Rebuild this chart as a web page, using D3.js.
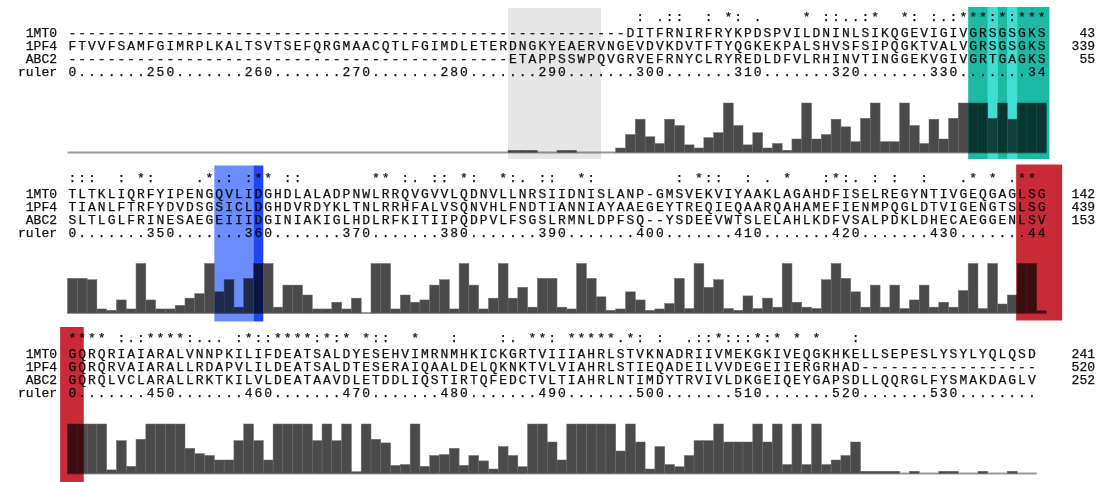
<!DOCTYPE html>
<html>
<head>
<meta charset="utf-8">
<script src="https://cdn.jsdelivr.net/npm/d3@7/dist/d3.min.js"></script>
<style>
body { margin: 0; background: #fff; }
svg text { font-family: "Liberation Mono", "DejaVu Sans Mono", monospace; font-size: 13px; fill: #111; stroke: #111; stroke-width: 0.25px; }
.hl { mix-blend-mode: multiply; }
</style>
</head>
<body>
<svg id="chart" width="1113" height="482"></svg>
<script>
// sequence names
var names = ["1MT0", "1PF4", "ABC2"];

// aligned residues, one string per block and sequence
var seqBlock1 = [
  "---------------------------------------------------------DITFRNIRFRYKPDSPVILDNINLSIKQGEVIGIVGRSGSGKS",
  "FTVVFSAMFGIMRPLKALTSVTSEFQRGMAACQTLFGIMDLETERDNGKYEAERVNGEVDVKDVTFTYQGKEKPALSHVSFSIPQGKTVALVGRSGSGKS",
  "---------------------------------------------ETAPPSSWPQVGRVEFRNYCLRYREDLDFVLRHINVTINGGEKVGIVGRTGAGKS"
];
var seqBlock2 = [
  "TLTKLIQRFYIPENGQVLIDGHDLALADPNWLRRQVGVVLQDNVLLNRSIIDNISLANP-GMSVEKVIYAAKLAGAHDFISELREGYNTIVGEQGAGLSG",
  "TIANLFTRFYDVDSGSICLDGHDVRDYKLTNLRRHFALVSQNVHLFNDTIANNIAYAAEGEYTREQIEQAARQAHAMEFIENMPQGLDTVIGENGTSLSG",
  "SLTLGLFRINESAEGEIIIDGINIAKIGLHDLRFKITIIPQDPVLFSGSLRMNLDPFSQ--YSDEEVWTSLELAHLKDFVSALPDKLDHECAEGGENLSV"
];
var seqBlock3 = [
  "GQRQRIAIARALVNNPKILIFDEATSALDYESEHVIMRNMHKICKGRTVIIIAHRLSTVKNADRIIVMEKGKIVEQGKHKELLSEPESLYSYLYQLQSD",
  "GQRQRVAIARALLRDAPVLILDEATSALDTESERAIQAALDELQKNKTVLVIAHRLSTIEQADEILVVDEGEIIERGRHAD------------------",
  "GQRQLVCLARALLRKTKILVLDEATAAVDLETDDLIQSTIRTQFEDCTVLTIAHRLNTIMDYTRVIVLDKGEIQEYGAPSDLLQQRGLFYSMAKDAGLV"
];

// residue numbers at the end of each row
var endBlock1 = [43, 339, 55];
var endBlock2 = [142, 439, 153];
var endBlock3 = [241, 520, 252];

// clustal conservation symbols
var consBlock1 = " ".repeat(57) + " : .::  : *: .    * ::..:*  *: :.:***:*:***";
var consBlock2 = ":::  : *:    .*.: :** ::       ** :. :: *:  *:. ::  *:        : *::  : . *   :*:. : :  :   .* * .** ";
var consBlock3 = "**** :.:****:... :*::****:*:* *::  *   :    :. **: *****.*: :  .::*:::*:* * *   :" + " ".repeat(18);

// ruler tick labels
var rulerBlock1 = "0.......250.......260.......270.......280.......290.......300.......310.......320.......330.......34";
var rulerBlock2 = "0.......350.......360.......370.......380.......390.......400.......410.......420.......430.......44";
var rulerBlock3 = "0.......450.......460.......470.......480.......490.......500.......510.......520.......530........";

// conservation histogram, one value per column (0..11)
var histBlock1 = [0,0,0,0,0,0,0,0,0,0, 0,0,0,0,0,0,0,0,0,0, 0,0,0,0,0,0,0,0,0,0, 0,0,0,0,0,0,0,0,0,0,
  0,0,0,0,0,0.5,0.5,0.5,0,0, 0.5,0.5,0,0,0,0,1,4,7.4,3.5, 2,7.4,6,1.7,1,3.3,4.4,11,6,1.7,
  4.4,1,2,0.5,3,11,3,4,7.4,5.7, 2.4,7.6,11,2.4,2.4,11,6,2,7.4,3, 7.6,11,11,11,7.6,11,7.4,11,11,11];
var histBlock2 = [7.7,7.7,7.4,0.9,0.6,2.9,0.9,11,2.9,0.9, 0.9,1.7,3.3,4.3,11,4.7,7.4,1.3,7.7,11,
  11,1.3,6.2,6.2,4,0.9,0.9,2.4,0.9,3.3, 0,11,11,0.9,4,2.4,2.9,6.2,7.4,0.9,
  11,6.2,0.9,3.3,11,3.3,5.7,1.3,7.7,7.7, 1.3,0.9,11,7.7,3.6,0.6,0.9,4.7,2.9,0.6,
  0.9,2.1,7.7,1,11,5.7,7.4,1,0.6,3.8, 1,3.3,1.3,11,2.4,1.3,1,7.4,11,7.7,
  4.7,1.3,6.2,1.3,6.2,1,2.9,6.2,1.3,2.4, 1.3,5,11,1,11,2,4,11,11,0.5];
var histBlock3 = [11,11,11,11,0.8,7.3,1.6,7.6,11,11, 11,11,5.6,4.4,4,3,3,7.3,11,7.3,
  3,11,11,11,11,7.3,11,7.3,11,0.4, 11,7.6,6.8,1.8,2,11,1.6,4,4.2,5.6,
  1.8,4,2.8,1,6,4,1.5,11,11,7, 3,11,11,11,11,11,5,11,7,1,
  6,2,1.5,4,7.3,7.3,11,7,7,7, 11,7,11,2,11,2,11,2,3,4,
  7,0.5,0.5,0.5,0.5,0,0.5,0,0,0.5, 0.5,0,0,0.5,0,0,0.5,0,0];

var blocks = [
  {seqs: seqBlock1, ends: endBlock1, cons: consBlock1, ruler: rulerBlock1, hist: histBlock1},
  {seqs: seqBlock2, ends: endBlock2, cons: consBlock2, ruler: rulerBlock2, hist: histBlock2},
  {seqs: seqBlock3, ends: endBlock3, cons: consBlock3, ruler: rulerBlock3, hist: histBlock3}
];

// coloured column boxes: block, first col, last col (exclusive), colour
var boxes = [
  {b: 0, c0: 45, c1: 54.5, color: "#e6e6e6", top: 8, bottom: 159},
  {b: 0, c0: 92, c1: 94, color: "#1cb9a4", top: 7, bottom: 159},
  {b: 0, c0: 94, c1: 95, color: "#40ddd0", top: 7, bottom: 159},
  {b: 0, c0: 95, c1: 96, color: "#1cb9a4", top: 7, bottom: 159},
  {b: 0, c0: 96, c1: 97, color: "#40ddd0", top: 7, bottom: 159},
  {b: 0, c0: 97, c1: 100.3, color: "#1cb9a4", top: 7, bottom: 159},
  {b: 1, c0: 15, c1: 19, color: "#6b8cfb", top: 5, bottom: 161},
  {b: 1, c0: 19, c1: 20, color: "#2245f0", top: 5, bottom: 161},
  {b: 1, c0: 96.9, c1: 101.6, color: "#c92a37", top: 4, bottom: 160},
  {b: 2, c0: -0.75, c1: 1.66, color: "#c92a37", top: 6, bottom: 170}
];

var svg = d3.select("#chart");
var pitch = 160.5;
var x = d3.scaleLinear().domain([0, 100]).range([67.5, 1046.5]);
var colW = x(1) - x(0);
var y = d3.scaleLinear().domain([0, 11]).range([152.5, 103]);
var rowBase = [37, 50, 63];

blocks.forEach(function(blk, b){
  var g = svg.append("g").attr("transform", "translate(0," + (b * pitch) + ")");

  // histogram baseline and bars
  g.append("line")
    .attr("x1", x(0)).attr("x2", x(blk.hist.length))
    .attr("y1", y(0)).attr("y2", y(0))
    .style("stroke", "#9a9a9a").style("stroke-width", 2);
  g.append("g").selectAll("rect")
    .data(blk.hist)
    .enter().append("rect")
    .attr("x", function(d, i){ return x(i); })
    .attr("width", colW)
    .attr("y", function(d){ return y(d); })
    .attr("height", function(d){ return y(0) - y(d); })
    .style("fill", "#4a4a4a")
    .style("stroke", "#6a6a6a")
    .style("stroke-width", 0.5);

  // conservation symbols
  g.append("g").selectAll("text")
    .data(blk.cons.split(""))
    .enter().append("text")
    .attr("x", function(d, i){ return x(i) + colW / 2; })
    .attr("y", 21)
    .attr("text-anchor", "middle")
    .text(function(d){ return d === " " ? "" : d; });

  // sequences
  blk.seqs.forEach(function(s, r){
    g.append("text").attr("x", 57).attr("y", rowBase[r]).attr("text-anchor", "end").text(names[r]);
    g.append("g").selectAll("text")
      .data(s.split(""))
      .enter().append("text")
      .attr("x", function(d, i){ return x(i) + colW / 2; })
      .attr("y", rowBase[r])
      .attr("text-anchor", "middle")
      .text(function(d){ return d; });
    g.append("text").attr("x", 1095).attr("y", rowBase[r]).attr("text-anchor", "end").text(blk.ends[r]);
  });

  // ruler
  g.append("text").attr("x", 57).attr("y", 76).attr("text-anchor", "end").text("ruler");
  g.append("g").selectAll("text")
    .data(blk.ruler.split(""))
    .enter().append("text")
    .attr("x", function(d, i){ return x(i) + colW / 2; })
    .attr("y", 76)
    .attr("text-anchor", "middle")
    .text(function(d){ return d; });
});

// highlight boxes drawn on top, multiplied
svg.append("g").selectAll("rect")
  .data(boxes)
  .enter().append("rect")
  .attr("class", "hl")
  .attr("x", function(d){ return x(d.c0); })
  .attr("width", function(d){ return x(d.c1) - x(d.c0); })
  .attr("y", function(d){ return d.b * pitch + d.top; })
  .attr("height", function(d){ return d.bottom - d.top; })
  .style("fill", function(d){ return d.color; });
</script>
</body>
</html>
